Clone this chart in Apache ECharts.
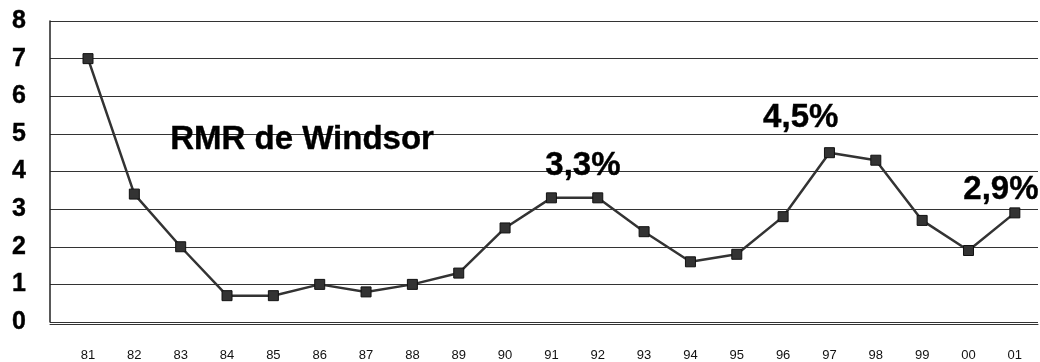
<!DOCTYPE html>
<html>
<head>
<meta charset="utf-8">
<script src="https://cdn.jsdelivr.net/npm/echarts@6/dist/echarts.min.js"></script>
<style>
html, body { margin: 0; padding: 0; background: #fff; }
#chart { width: 1040px; height: 362px; }
</style>
</head>
<body>
<div id="chart"></div>
<script>
// années (axe x) et taux (%)
var years = ["81", "82", "83", "84", "85", "86", "87", "88", "89", "90", "91",
	"92", "93", "94", "95", "96", "97", "98", "99", "00", "01"];
var rates = [7.0, 3.4, 2.0, 0.7, 0.7, 1.0, 0.8, 1.0, 1.3, 2.5, 3.3,
	3.3, 2.4, 1.6, 1.8, 2.8, 4.5, 4.3, 2.7, 1.9, 2.9];
// étiquettes de texte dans le graphique : [position x (index), position y (valeur)]
var note_texts = ["RMR de Windsor", "3,3%", "4,5%", "2,9%"];
var note_pos = [[4.62, 4.84], [10.68, 4.15], [15.38, 5.43], [19.70, 3.51]];
var y_ticks = [0, 1, 2, 3, 4, 5, 6, 7, 8];

var font = "'Liberation Sans', Arial, sans-serif";
var chart = echarts.init(document.getElementById("chart"));

var line_data = [];
for (var i = 0; i < rates.length; i++) {
	line_data.push([i, rates[i]]);
}
var note_data = [];
for (var j = 0; j < note_texts.length; j++) {
	note_data.push({ name: note_texts[j], value: note_pos[j] });
}

var option = {
	animation: false,
	grid: { left: 50, right: 2, top: 21, bottom: 40 },
	xAxis: {
		type: "value",
		min: -0.82,
		max: 20.5,
		offset: 2,
		axisLine: { show: true, onZero: false, lineStyle: { color: "#333", width: 1 } },
		axisTick: { show: false },
		splitLine: { show: false },
		axisLabel: {
			customValues: years.map(function (y, i) { return i; }),
			formatter: function (v) { return years[Math.round(v)]; },
			color: "#111",
			fontFamily: font,
			fontSize: 13,
			margin: 25
		}
	},
	yAxis: {
		type: "value",
		min: y_ticks[0],
		max: y_ticks[y_ticks.length - 1],
		interval: 1,
		axisLine: { show: true, onZero: false, lineStyle: { color: "#222", width: 1.5 } },
		axisTick: { show: false },
		splitLine: { show: true, lineStyle: { color: "#333", width: 1 } },
		axisLabel: {
			color: "#000",
			fontFamily: font,
			fontWeight: "bold",
			fontSize: 25,
			margin: 24,
			textBorderColor: "#000",
			textBorderWidth: 0.4
		}
	},
	series: [
		{
			type: "line",
			data: line_data,
			symbol: "rect",
			symbolSize: 10,
			lineStyle: { color: "#333", width: 2.5 },
			itemStyle: { color: "#333", borderColor: "#111", borderWidth: 1 },
			z: 3
		},
		{
			type: "scatter",
			data: note_data,
			symbolSize: 1,
			itemStyle: { color: "rgba(0,0,0,0)", opacity: 1 },
			silent: true,
			label: {
				show: true,
				position: "inside",
				formatter: function (p) { return p.name; },
				color: "#000",
				opacity: 1,
				fontFamily: font,
				fontWeight: "bold",
				fontSize: 33,
				textBorderColor: "#000",
				textBorderWidth: 0.4
			},
			z: 4
		}
	]
};
chart.setOption(option);
</script>
</body>
</html>
